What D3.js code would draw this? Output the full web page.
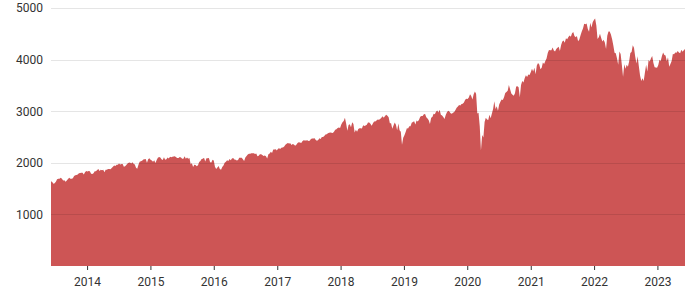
<!DOCTYPE html>
<html lang="en">
<head>
    <meta charset="UTF-8">
    <title>S&P 500</title>
    <script src="https://d3js.org/d3.v7.min.js"></script>
    <style>
        body { margin: 0; background: #fff; font-family: Roboto, sans-serif; }
        .axis text { font-size: 12px; fill: #333; font-family: Roboto, sans-serif; }
        .axis path { display: none; }
        .grid line { stroke: #000; stroke-opacity: 0.1; shape-rendering: crispEdges; }
        .area { fill: #cd5555; }
    </style>
</head>
<body>
    <div id="chart"></div>

    <script>
        // Weekly closes, each year array starts on the first Friday listed
        const start2013 = "2013-06-07";
        const close2013 = [1643,1626,1592,1606,1632,1680,1692,1691,1709,1691,1655,1664,1633,1655,1688,1710,1692,1690,1703,1745,1759,1762,1771,1798,1804,1806,1805,1775,1818,1841];
        const start2014 = "2014-01-03";
        const close2014 = [1831,1842,1838,1790,1783,1797,1838,1836,1859,1878,1841,1866,1857,1865,1815,1864,1863,1881,1878,1877,1900,1924,1949,1936,1962,1961,1985,1967,1978,1978,1925,1931,1955,1988,2003,2007,1985,2010,1982,1968,1906,1887,1964,2018,2032,2039,2064,2068,2075,2003,2071,2089];
        const start2015 = "2015-01-02";
        const close2015 = [2058,2045,2019,2051,1995,2055,2097,2110,2105,2071,2053,2108,2061,2067,2102,2081,2117,2108,2116,2123,2126,2107,2092,2094,2110,2102,2077,2077,2127,2080,2104,2078,2092,1971,1989,1921,1961,1958,1931,1951,2015,2033,2075,2079,2099,2023,2089,2090,2092,2012,2005,2061];
        const start2016 = "2016-01-01";
        const close2016 = [2044,1922,1880,1907,1940,1880,1865,1918,1948,2000,2022,2050,2035,2073,2048,2081,2092,2065,2058,2047,2052,2099,2099,2096,2071,2037,2103,2130,2162,2175,2174,2183,2184,2184,2169,2180,2128,2139,2165,2168,2153,2133,2141,2126,2085,2164,2182,2213,2192,2260,2258,2264,2239];
        const start2017 = "2017-01-06";
        const close2017 = [2277,2275,2271,2295,2297,2316,2351,2367,2383,2372,2378,2344,2363,2356,2329,2349,2384,2399,2391,2382,2416,2439,2432,2433,2438,2423,2425,2459,2473,2472,2477,2441,2426,2444,2477,2461,2500,2502,2519,2549,2553,2575,2581,2588,2582,2578,2602,2642,2651,2675,2683,2674];
        const start2018 = "2018-01-05";
        const close2018 = [2743,2786,2810,2873,2762,2620,2732,2747,2691,2786,2752,2588,2641,2604,2656,2670,2670,2663,2728,2713,2721,2735,2779,2780,2755,2718,2760,2801,2802,2819,2840,2833,2850,2875,2902,2872,2905,2930,2914,2885,2767,2768,2658,2723,2781,2736,2633,2760,2633,2600,2351,2486];
        const start2019 = "2019-01-04";
        const close2019 = [2532,2596,2671,2665,2707,2708,2776,2793,2804,2743,2822,2800,2834,2893,2907,2905,2940,2946,2881,2860,2826,2752,2873,2887,2950,2942,2990,3014,2977,3026,2932,2919,2889,2847,2926,2979,3007,2992,2962,2953,2970,2986,3023,3067,3093,3120,3110,3141,3146,3169,3221,3240];
        const start2020 = "2020-01-03";
        const close2020 = [3235,3265,3330,3295,3226,3328,3380,3338,2954,2972,2711,2237,2541,2489,2790,2875,2837,2831,2930,2864,2955,3044,3194,3041,3098,3009,3130,3185,3225,3216,3271,3351,3373,3397,3508,3427,3341,3319,3298,3348,3477,3484,3465,3270,3509,3585,3558,3638,3699,3663,3709,3703];
        const start2021 = "2021-01-01";
        const close2021 = [3756,3825,3768,3841,3714,3887,3934,3907,3811,3842,3943,3913,3975,4020,4129,4185,4180,4181,4233,4174,4156,4204,4230,4247,4166,4281,4352,4370,4327,4412,4395,4436,4468,4442,4509,4535,4459,4433,4455,4357,4391,4471,4545,4605,4697,4683,4698,4595,4538,4712,4620,4726,4766];
        const start2022 = "2022-01-07";
        const close2022 = [4796,4663,4398,4432,4501,4419,4349,4385,4329,4204,4463,4543,4546,4488,4393,4272,4132,4123,4024,3901,4158,4109,3901,3667,3912,3825,3899,3863,3962,4130,4145,4280,4228,4058,3924,4067,3873,3693,3586,3640,3583,3752,3901,3771,3993,3965,4026,4072,3934,3852,3845,3840];
        const start2023 = "2023-01-06";
        const close2023 = [3895,3999,3973,4071,4136,4090,4079,3970,4045,3862,3917,3971,4109,4105,4138,4133,4169,4136,4124,4192,4151,4180,4205];

        const yTicks = [1000, 2000, 3000, 4000, 5000];
        const xTickYears = [2014, 2015, 2016, 2017, 2018, 2019, 2020, 2021, 2022, 2023];

        const parse = d3.timeParse("%Y-%m-%d");
        const years = [
            [start2013, close2013], [start2014, close2014], [start2015, close2015],
            [start2016, close2016], [start2017, close2017], [start2018, close2018],
            [start2019, close2019], [start2020, close2020], [start2021, close2021],
            [start2022, close2022], [start2023, close2023]
        ];
        const data = [];
        years.forEach(([s, vals]) => {
            const first = parse(s);
            vals.forEach((v, i) => data.push({ date: d3.timeDay.offset(first, i * 7), value: v }));
        });

        const W = 700, H = 300;
        const margin = {top: 8, right: 15, bottom: 34, left: 51};
        const width = W - margin.left - margin.right;
        const height = H - margin.top - margin.bottom;

        const svg = d3.select("#chart").append("svg")
            .attr("width", W)
            .attr("height", H)
            .append("g")
            .attr("transform", `translate(${margin.left},${margin.top})`);

        const x = d3.scaleTime()
            .domain(d3.extent(data, d => d.date))
            .range([0, width]);

        const y = d3.scaleLinear()
            .domain([0, 5000])
            .range([height, 0]);

        const area = d3.area()
            .x(d => x(d.date))
            .y0(height)
            .y1(d => y(d.value));

        svg.append("path")
            .datum(data)
            .attr("class", "area")
            .attr("d", area);

        // gridlines drawn over the area
        svg.append("g")
            .attr("class", "grid")
            .selectAll("line")
            .data(yTicks)
            .enter().append("line")
            .attr("x1", 0)
            .attr("x2", width)
            .attr("y1", d => Math.round(y(d)) + 0.5)
            .attr("y2", d => Math.round(y(d)) + 0.5);

        svg.append("g")
            .attr("class", "axis")
            .call(d3.axisLeft(y).tickValues(yTicks).tickSize(0).tickPadding(8).tickFormat(d3.format("d")));

        svg.append("g")
            .attr("class", "axis")
            .attr("transform", `translate(0,${height})`)
            .call(d3.axisBottom(x)
                .tickValues(xTickYears.map(yr => new Date(yr, 0, 1)))
                .tickSize(4)
                .tickPadding(7)
                .tickFormat(d3.timeFormat("%Y")))
            .selectAll("line").attr("stroke", "#333");
    </script>
</body>
</html>
